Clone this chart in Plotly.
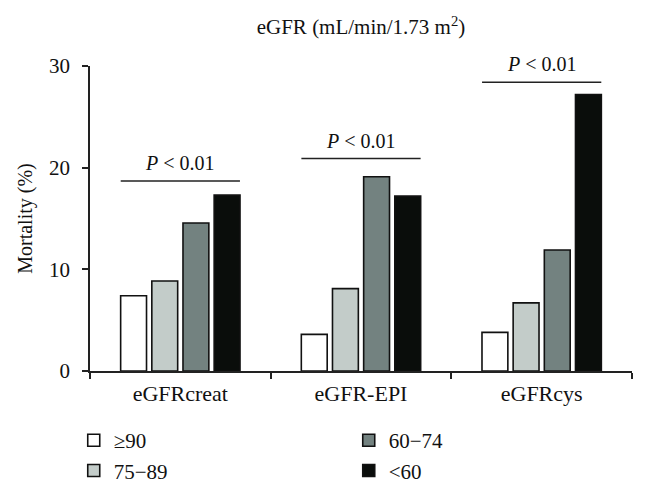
import plotly.graph_objects as go

categories = ["eGFRcreat", "eGFR-EPI", "eGFRcys"]
groups = ["≥90", "75−89", "60−74", "<60"]
values = {
    "≥90": [7.4, 3.6, 3.8],
    "75−89": [8.85, 8.1, 6.7],
    "60−74": [14.55, 19.1, 11.9],
    "<60": [17.3, 17.2, 27.2],
}
colors = {"≥90": "#ffffff", "75−89": "#c3ccc9", "60−74": "#738280", "<60": "#0a0d0b"}
legend_rank = {"≥90": 1, "60−74": 2, "75−89": 3, "<60": 4}
p_line_y = [18.7, 20.9, 28.4]
p_text = "<i>P</i> < 0.01"

FONT = "Liberation Serif, Times New Roman, serif"
FS = 21

fig = go.Figure()
for g in groups:
    fig.add_trace(go.Bar(
        x=categories, y=values[g], name=g,
        marker=dict(color=colors[g], line=dict(color="#111111", width=1.6)),
        legendrank=legend_rank[g],
    ))

for i, yv in enumerate(p_line_y):
    fig.add_shape(type="line", xref="x", yref="y", x0=i - 0.33, x1=i + 0.33, y0=yv, y1=yv,
                  line=dict(color="#222222", width=1.5))
    fig.add_annotation(x=i, y=yv, xref="x", yref="y", text=p_text, showarrow=False,
                       yanchor="bottom", yshift=5, font=dict(family=FONT, size=FS - 1, color="#111111"))

fig.update_layout(
    width=647, height=489,
    margin=dict(l=82, r=23, t=58, b=126, autoexpand=False),
    paper_bgcolor="white", plot_bgcolor="white",
    font=dict(family=FONT, size=FS, color="#111111"),
    barmode="group", bargap=0.31, bargroupgap=0.17,
    title=dict(text="eGFR (mL/min/1.73 m<sup>2</sup>)", x=0.5, xref="paper", xanchor="center",
               y=0.961, yanchor="middle", font=dict(family=FONT, size=FS, color="#111111")),
    showlegend=True,
    legend=dict(orientation="h", x=-0.03, xanchor="left", y=-0.161, yanchor="top",
                entrywidth=230, entrywidthmode="pixels", font=dict(family=FONT, size=FS),
                itemwidth=30, tracegroupgap=0),
)
fig.update_xaxes(type="category", tickson="boundaries", ticks="outside", ticklen=6, tickwidth=1.5,
                 tickcolor="#222222", showline=True, linecolor="#222222", linewidth=1.5,
                 showgrid=False, range=[-0.5, 2.5], tickfont=dict(family=FONT, size=FS + 1),
                 ticklabelstandoff=2)
fig.update_yaxes(range=[0, 30], tickvals=[0, 10, 20, 30], ticks="outside", ticklen=6, tickwidth=1.5,
                 tickcolor="#222222", showline=True, linecolor="#222222", linewidth=1.5,
                 showgrid=False, zeroline=False, ticklabelstandoff=8,
                 title=dict(text="Mortality (%)", standoff=11, font=dict(family=FONT, size=FS - 1)),
                 tickfont=dict(family=FONT, size=FS))

fig.write_html("out.html")
